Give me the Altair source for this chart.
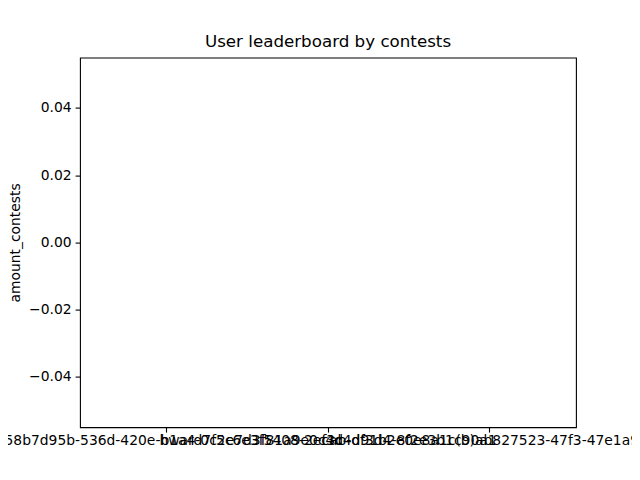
import altair as alt
import pandas as pd

users = [
    "f958b7d95b-536d-420e-b1a4-0c2e7d3f81a9e0c4d",
    "hward7f5c6e3f5408-2ecab-df3d4-8f2e3b1c90a1",
    "f3c4d91b2e0e8a1c(b)ab827523-47f3-47e1a9b2",
]
amount_contests = [0, 0, 0]
y_ticks = [-0.04, -0.02, 0.0, 0.02, 0.04]

df = pd.DataFrame({"user": users, "amount_contests": amount_contests})

FONT = "DejaVu Sans"

chart = (
    alt.Chart(df)
    .mark_bar(color="#1f77b4")
    .encode(
        x=alt.X(
            "user:N",
            sort=users,
            scale=alt.Scale(paddingInner=0.2, paddingOuter=0.14),
            axis=alt.Axis(
                title=None,
                labelAngle=0,
                labelOverlap=False,
                labelLimit=0,
                labelBound=False,
                labelFlush=False,
                domain=False,
                tickColor="black",
                tickWidth=1.1,
                tickSize=4.9,
                labelPadding=1,
                labelFont=FONT,
                labelFontSize=13.9,
                labelColor="black",
            ),
        ),
        y=alt.Y(
            "amount_contests:Q",
            scale=alt.Scale(domain=[-0.055, 0.055], nice=False, zero=False),
            axis=alt.Axis(
                title="amount_contests",
                values=y_ticks,
                format=".2f",
                grid=False,
                domain=False,
                tickColor="black",
                tickWidth=1.1,
                tickSize=4.9,
                labelPadding=4,
                labelFont=FONT,
                labelFontSize=13.9,
                labelColor="black",
                titleFont=FONT,
                titleFontSize=13.9,
                titleFontWeight="normal",
                titleColor="black",
                titlePadding=6,
            ),
        ),
        y2=alt.datum(0),
    )
    .properties(
        width=496,
        height=369.6,
        title=alt.TitleParams(
            "User leaderboard by contests",
            font=FONT,
            fontSize=16.7,
            fontWeight="normal",
            color="black",
            anchor="middle",
            offset=7,
        ),
        autosize=alt.AutoSizeParams(type="none"),
        padding={"left": 72, "top": 49.6, "right": 56, "bottom": 45},
    )
    .configure(background="white", view=alt.ViewConfig(stroke="black", strokeWidth=1.1))
)

chart.save("out.html", embed_options={"renderer": "svg", "actions": False})
